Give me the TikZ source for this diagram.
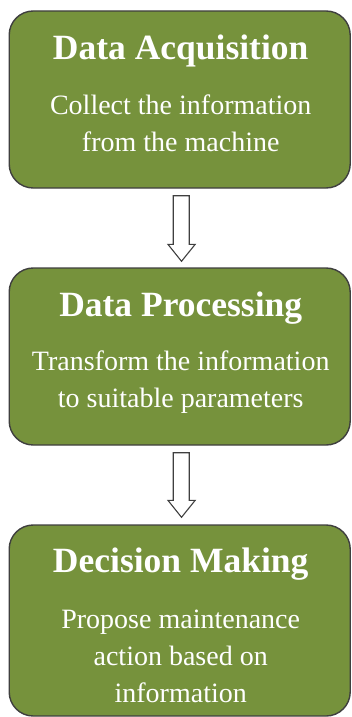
\documentclass[tikz,border=0pt]{standalone}
\usepackage{fontspec}
\setmainfont{Liberation Serif}
\usetikzlibrary{calc}
\definecolor{olive}{HTML}{76923C}
\definecolor{edge}{HTML}{3F3F3F}
\tikzset{
  stage/.style={draw=edge, line width=1.4pt, fill=olive, rounded corners=24pt,
    minimum width=341pt, inner sep=0pt},
  ttl/.style={text=white, font=\fontsize{35.5pt}{40pt}\selectfont\bfseries, anchor=base, inner sep=0pt},
  bdy/.style={text=white, font=\fontsize{28pt}{37pt}\selectfont, align=center, anchor=base, inner sep=0pt},
  blockarrow/.style={draw=edge, line width=1.1pt, fill=white, line join=miter}
}
\begin{document}
\begin{tikzpicture}[x=1pt,y=-1pt]
\useasboundingbox (0,0) rectangle (351,717);
% boxes
\node[stage, minimum height=177pt] (b1) at (179.7,99.5) {};
\node[stage, minimum height=177pt] (b2) at (179.7,356.5) {};
\node[stage, minimum height=191pt] (b3) at (179.7,620.5) {};
% texts (body nodes: base = last line's baseline)
\node[ttl] (t1) at ($(b1.north)+(1,49)$) {Data Acquisition};
\node[bdy] (d1) at ($(b1.north)+(1,141)$) {Collect the information\\from the machine};
\node[ttl] (t2) at ($(b2.north)+(1,49)$) {Data Processing};
\node[bdy] (d2) at ($(b2.north)+(1,140)$) {Transform the information\\to suitable parameters};
\node[ttl] (t3) at ($(b3.north)+(1,48)$) {Decision Making};
\node[bdy] (d3) at ($(b3.north)+(1,178)$) {Propose maintenance\\action based on\\information};
% block arrows
\draw[blockarrow] ($(b1.south)+(-6.5,7)$) -- ($(b1.south)+(9.5,7)$)
  -- ($(b2.north)+(9.5,-23)$) -- ($(b2.north)+(15.5,-23)$)
  -- ($(b2.north)+(1.8,-6)$) -- ($(b2.north)+(-11.8,-23)$)
  -- ($(b2.north)+(-6.5,-23)$) -- cycle;
\draw[blockarrow] ($(b2.south)+(-6.5,7)$) -- ($(b2.south)+(9.5,7)$)
  -- ($(b3.north)+(9.5,-24)$) -- ($(b3.north)+(15.5,-24)$)
  -- ($(b3.north)+(1.8,-7)$) -- ($(b3.north)+(-11.8,-24)$)
  -- ($(b3.north)+(-6.5,-24)$) -- cycle;
\end{tikzpicture}
\end{document}
